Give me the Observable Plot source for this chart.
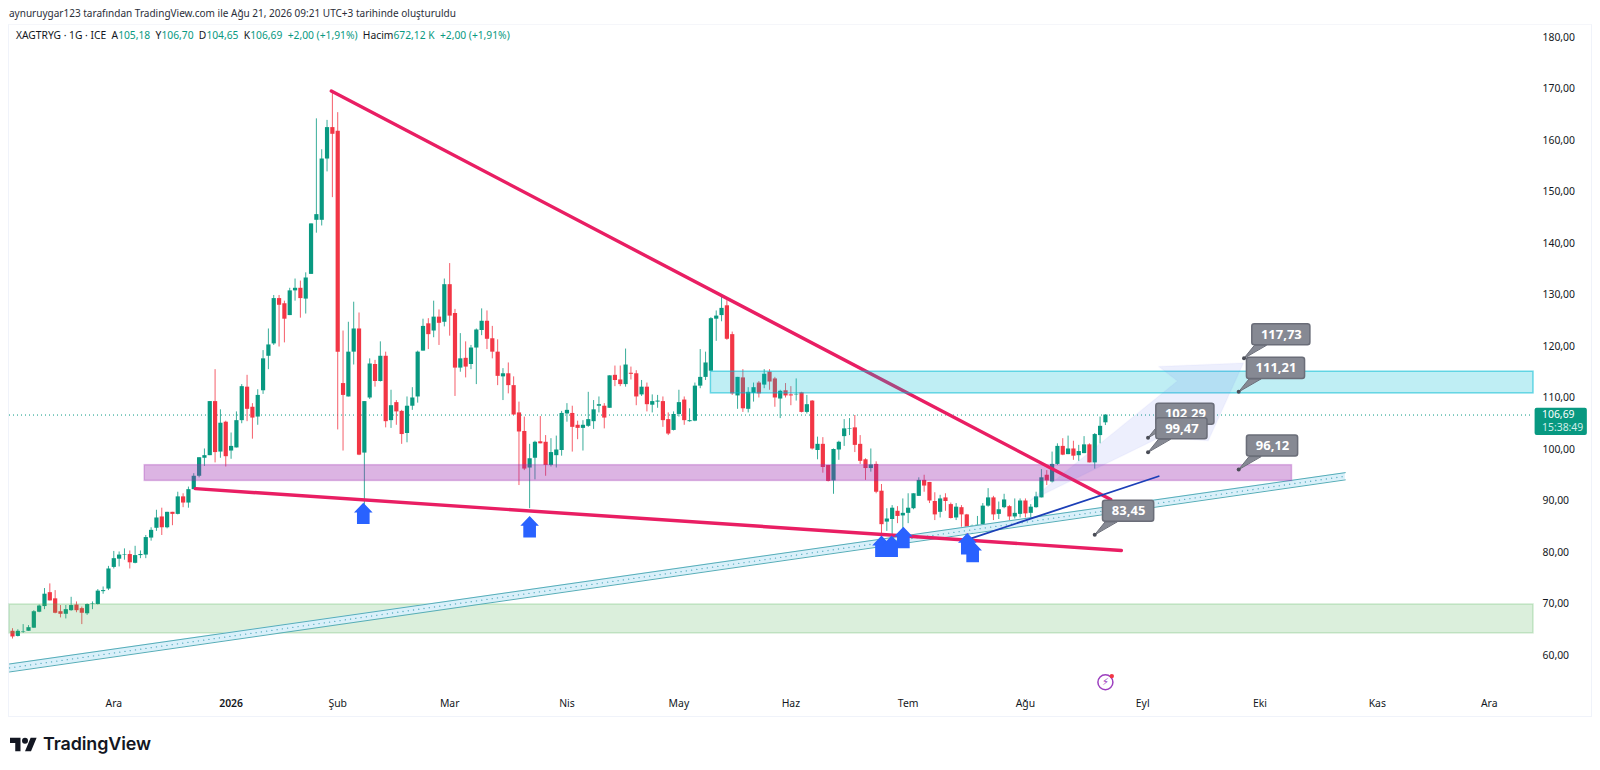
<!DOCTYPE html>
<html lang="tr"><head><meta charset="utf-8">
<script src="https://cdn.jsdelivr.net/npm/d3@7"></script>
<script src="https://cdn.jsdelivr.net/npm/@observablehq/plot@0.6"></script>
<style>
html,body{margin:0;padding:0;background:#fff;width:1600px;height:770px;overflow:hidden;font-family:"Noto Sans",sans-serif;color:#131722}
#head{position:absolute;left:9px;top:5px;font-size:10.03px;line-height:16px;color:#2a2e39;white-space:nowrap}
#legend{position:absolute;left:16px;top:27px;font-size:10.28px;line-height:16px;color:#131722;white-space:nowrap}
#legend b{font-weight:400;color:#089981}
#pane{position:absolute;left:8px;top:24px;width:1584px;height:693px;border:1px solid #f0f3fa;border-top-color:#f5f6fa;box-sizing:border-box}
#chart{position:absolute;left:0;top:24px}
#logo{position:absolute;left:10px;top:733px;display:flex;align-items:center;gap:6px;font-family:Inter,sans-serif;font-weight:600;font-size:17.9px;letter-spacing:-.1px;color:#131722}
</style></head><body>
<div id="pane"></div>
<div id="chart"></div>
<div id="head">aynuruygar123 tarafından TradingView.com ile Ağu 21, 2026 09:21 UTC+3 tarihinde oluşturuldu</div>
<div id="legend">XAGTRYG · 1G · ICE &nbsp;A<b>105,18</b> &nbsp;Y<b>106,70</b> &nbsp;D<b>104,65</b> &nbsp;K<b>106,69</b> &nbsp;<b>+2,00 (+1,91%)</b> &nbsp;Hacim<b>672,12 K</b> &nbsp;<b>+2,00 (+1,91%)</b></div>
<div id="logo"><svg width="27" height="16" viewBox="0 2 36 21"><path fill="#131722" d="M14 22H7V11H0V4h14v18zM28 22h-8l7.5-18h8L28 22z"/><circle fill="#131722" cx="20" cy="8" r="4"/></svg><span>TradingView</span></div>
<script>
const open=[64.7,63.7,64.5,64.7,65.3,68.4,69.5,72.2,71.0,68.5,
68.0,68.7,69.8,69.1,68.1,69.9,69.9,72.4,72.9,77.1,
78.7,79.5,79.6,77.9,79.4,79.5,82.8,84.7,86.9,84.8,
87.8,87.4,90.8,89.6,92.2,94.8,98.3,98.8,109.3,99.5,
105.3,99.7,100.3,105.6,112.1,108.2,106.3,111.4,118.1,120.5,
129.3,128.3,126.0,130.8,131.3,129.2,134.0,144.5,144.5,156.4,
162.5,161.8,112.8,110.2,118.9,123.4,99.3,110.0,116.5,113.2,
118.1,105.6,109.1,107.4,103.1,108.4,110.2,119.1,124.4,123.0,
125.7,124.7,132.0,126.4,115.8,117.7,116.5,119.7,123.1,124.9,
121.5,118.9,114.1,114.7,112.4,107.1,103.5,96.4,98.3,101.5,
101.4,96.9,98.8,99.8,106.9,107.0,104.7,104.1,104.5,105.4,
108.4,108.4,108.0,114.4,113.5,112.6,114.8,114.7,110.6,112.1,
108.6,109.2,109.3,105.8,103.7,106.8,109.6,105.4,105.5,112.3,
114.0,115.2,125.3,126.0,127.9,122.3,110.4,113.9,107.8,110.9,
112.9,112.5,115.0,113.7,109.8,111.4,110.6,110.6,111.0,107.2,
109.4,99.8,101.0,96.9,93.9,99.9,102.5,103.9,104.2,101.0,
98.0,96.3,97.1,91.9,85.9,86.4,88.0,87.1,87.6,88.5,
90.9,94.0,93.6,89.9,87.8,90.6,89.3,86.7,88.7,87.3,
84.1,84.1,85.3,89.0,90.6,87.4,88.7,88.9,86.9,87.4,
90.0,87.6,88.7,90.6,95.0,93.7,97.1,100.6,99.0,100.1,
98.8,99.2,100.9,97.4,102.7,105.18];
const high=[65.2,65.0,66.0,65.8,68.7,69.8,73.0,73.9,72.6,69.7,
69.7,71.3,70.4,69.4,70.0,70.4,72.8,73.3,77.3,80.2,
80.1,80.7,80.3,81.2,80.3,83.3,84.8,88.2,88.6,87.8,
87.8,91.7,91.4,92.7,95.3,98.4,100.1,109.3,115.5,107.7,
105.5,103.2,107.3,112.6,114.4,108.9,111.6,119.2,123.4,129.9,
129.9,128.8,131.3,133.1,132.7,134.3,143.8,164.2,158.2,163.9,
169.4,165.4,123.0,124.7,128.6,126.5,109.3,117.6,117.3,120.9,
118.9,111.5,109.5,107.6,110.2,112.0,119.1,125.3,125.4,128.8,
127.1,133.1,136.1,127.2,122.5,120.9,120.2,123.4,127.3,126.9,
123.9,121.3,115.7,116.8,114.1,109.2,106.3,101.0,101.6,106.4,
102.7,102.1,102.6,107.4,108.9,108.4,105.5,105.6,111.1,109.5,
110.2,108.9,114.3,116.2,116.2,119.5,116.0,115.3,113.4,112.9,
110.6,110.5,110.2,107.1,107.3,111.5,110.2,107.9,112.9,119.4,
118.9,125.6,126.9,130.1,128.9,122.8,114.0,115.5,112.0,112.9,
113.2,115.5,115.5,114.0,111.5,112.8,112.2,113.7,111.1,110.5,
109.5,102.4,102.3,96.9,100.1,101.6,105.8,106.0,106.6,102.7,
98.2,100.1,97.6,93.2,88.5,89.1,88.9,90.4,91.4,91.4,
94.5,95.0,93.6,91.6,91.1,91.4,89.6,89.5,89.1,87.4,
85.3,87.0,89.5,92.4,90.9,89.8,91.3,89.1,90.4,90.4,
90.4,89.3,91.7,96.1,95.9,99.5,101.1,102.1,102.6,101.6,
100.8,102.5,101.1,103.1,106.3,106.70];
const low=[63.2,63.6,64.3,64.7,65.3,68.3,68.9,70.6,68.1,67.3,
67.1,68.6,68.3,66.0,67.8,68.9,69.8,71.9,72.6,76.8,
77.2,78.5,76.8,77.8,78.8,78.8,82.2,84.1,83.3,84.6,
85.2,87.3,88.7,88.6,92.2,94.5,96.7,98.8,97.4,98.3,
96.6,98.1,100.3,105.0,105.4,102.0,104.7,110.7,115.5,120.2,
119.9,120.7,126.0,128.8,125.5,126.3,134.0,142.0,143.4,153.9,
148.9,103.8,99.7,110.2,116.4,98.8,88.8,109.7,112.1,113.1,
104.2,104.1,104.7,101.0,101.3,107.6,109.0,119.1,119.4,121.7,
120.2,123.8,122.0,110.3,115.0,113.9,115.5,112.6,122.1,119.4,
117.6,112.4,109.5,110.8,106.6,93.0,95.9,88.5,94.1,101.1,
94.8,96.6,96.4,98.7,105.3,99.5,101.9,99.7,104.3,103.9,
107.1,104.0,108.0,112.2,112.2,112.1,113.5,108.5,110.3,107.3,
107.1,108.0,104.3,102.7,103.6,106.3,104.7,105.3,105.4,111.8,
113.4,115.1,121.0,124.8,121.2,110.5,107.8,107.2,107.1,109.2,
110.0,111.8,111.5,108.2,106.0,110.0,108.5,109.4,107.1,106.9,
99.9,98.0,95.4,93.7,91.3,97.9,100.6,102.7,99.4,97.1,
94.0,95.6,91.4,83.3,84.1,83.3,85.6,84.4,85.6,88.3,
90.9,91.7,89.5,86.2,86.7,88.0,86.5,86.2,84.9,82.7,
83.5,84.0,85.1,88.8,86.2,86.4,88.5,86.1,86.5,86.7,
86.7,86.7,88.6,90.6,93.0,93.5,96.9,98.8,99.0,97.9,
97.7,99.2,97.4,96.2,101.1,104.65];
const close=[63.6,64.7,64.6,65.4,68.5,69.6,71.9,70.6,68.2,68.0,
68.9,69.7,68.7,68.2,69.9,70.0,72.5,72.6,76.8,78.8,
79.5,79.6,78.0,79.4,79.6,82.9,84.3,86.7,84.8,87.8,
87.4,90.8,89.6,92.2,94.8,98.4,98.8,109.3,99.4,105.1,
98.6,100.6,105.6,112.2,107.8,106.1,110.5,117.6,120.3,129.3,
128.0,125.3,130.8,131.3,129.3,133.3,143.8,145.6,156.4,162.5,
161.2,118.9,110.5,118.9,123.4,98.9,109.3,116.6,113.2,118.1,
105.4,108.5,107.3,102.9,108.4,110.0,118.9,123.9,122.3,125.7,
124.5,132.0,125.9,115.8,117.6,116.0,119.7,123.2,124.9,121.4,
118.9,114.2,114.7,112.4,106.7,103.4,96.2,98.2,101.4,101.1,
96.9,99.4,99.9,107.0,107.6,104.3,104.1,104.7,105.8,107.7,
108.7,106.1,114.3,113.4,112.6,116.4,114.6,110.2,112.1,108.7,
109.3,109.4,105.6,103.0,106.8,109.1,105.6,105.6,112.3,114.0,
116.8,125.4,125.9,127.4,121.4,110.8,114.0,107.9,111.1,112.0,
110.8,114.6,113.1,110.0,111.3,110.4,110.4,110.7,107.2,108.7,
100.1,101.0,96.5,93.8,100.0,101.4,104.0,104.0,100.8,97.7,
96.3,97.0,91.7,85.4,86.5,88.6,87.0,87.6,88.6,91.4,
94.0,92.9,90.0,87.3,90.4,89.9,86.6,88.8,87.3,83.5,
85.1,85.3,89.0,90.6,87.3,88.3,90.2,86.9,87.6,90.0,
87.5,88.8,90.8,94.5,93.9,97.1,100.6,98.9,100.1,98.7,
99.6,100.9,97.4,102.9,104.5,106.69];

// axes (x = bar number, one bar per trading day)
const monthBars=[19,61,82,104,125,146,168,190,212,234,256,277];
const monthNames=["Ara","Şub","Mar","Nis","May","Haz","Tem","Ağu","Eyl","Eki","Kas","Ara"];
const yearBar=41, yearName="2026";
const priceTicks=[60,70,80,90,100,110,120,130,140,150,160,170,180];

// drawings
const lastPrice=106.69, lastPriceText="106,69", countdown="15:38:49";
const trendUpperBars=[59.8,206], trendUpperVals=[169.6,90.3];
const trendLowerBars=[34.3,208], trendLowerVals=[92.4,80.4];
const blueBars=[179.7,215], blueVals=[82.7,94.8];
const chanBars=[-0.56,250], chanHi=[58.35,95.5], chanLo=[56.8,94.1];
const arrowBars=[65.8,97,163,164.9,167.1,179.1,180.1];
const arrowVals=[87.6,85,81.2,81.2,82.9,81.7,80.2];
const forecastBars=[190.6,218.5,215,230.9,224.3,215.3];
const forecastVals=[89.9,113.3,116.1,116.8,101.7,102.4];
const calloutBars=[231,230,213,213,230,203];
const calloutVals=[117.73,111.21,102.29,99.47,96.12,83.45];
const calloutText=["117,73","111,21","102,29","99,47","96,12","83,45"];

const xDomain=[-0.563,285.3], yDomain=[52.62,182.52];
const paneEnd=xDomain[1];

const bars=open.map((o,i)=>({i,o,h:high[i],l:low[i],c:close[i]}));
const up=bars.filter(d=>d.c>=d.o), down=bars.filter(d=>d.c<d.o);
const UP="#089981", DOWN="#f23645";
const pts=(xs,ys)=>xs.map((x,k)=>({x,y:ys[k]}));

const GR="#868993", GRS="#6a6d78";
// each callout is drawn whole before the next, so a later box covers an earlier text
const calloutMarks=calloutBars.flatMap((x,k)=>{
  const w=calloutText[k].length===6?10.9:9.6;
  const y=calloutVals[k];
  const x1=x+1.55,x2=x1+w,y1=y+2.5,y2=y1+4.1;
  return [
    Plot.line([{x,y},{x:x1+0.4,y:y1},{x:x1+2.6,y:y1}],{x:"x",y:"y",fill:GR,stroke:GRS,strokeWidth:1,curve:"linear-closed"}),
    Plot.rect([0],{x1,x2,y1,y2,fill:GR,stroke:GRS,strokeWidth:1.5,rx:2.5}),
    Plot.text([{x:(x1+x2)/2,y:(y1+y2)/2+0.05,t:calloutText[k]}],{x:"x",y:"y",text:"t",fill:"#fff",fontSize:13,fontWeight:700,
      fontFamily:"'Noto Sans',sans-serif",letterSpacing:"0.3px"}),
    Plot.dot([{x,y}],{x:"x",y:"y",r:2,fill:"#4a4d57",stroke:null})
  ];
});

const arrowSym={draw(ctx,size){const s=Math.sqrt(size)/2;
  ctx.moveTo(0,-s*1.15);ctx.lineTo(s,-s*.1);ctx.lineTo(s*.68,-s*.1);ctx.lineTo(s*.68,s*1.15);
  ctx.lineTo(-s*.68,s*1.15);ctx.lineTo(-s*.68,-s*.1);ctx.lineTo(-s,-s*.1);ctx.closePath();}};

const labelFont={fontFamily:"'Noto Sans',sans-serif",fontSize:10.4};

const plot=Plot.plot({
  width:1600,height:693,
  marginLeft:9,marginRight:67,marginTop:0,marginBottom:24,
  x:{type:"linear",domain:xDomain},
  y:{type:"linear",domain:yDomain},
  style:{background:"transparent",overflow:"visible",fontFamily:"'Noto Sans',sans-serif"},
  marks:[
    Plot.axisY({anchor:"right",ticks:priceTicks,tickSize:0,tickPadding:9,label:null,
      tickFormat:d=>d+",00",fill:"#131722",...labelFont}),
    Plot.axisX({ticks:monthBars,tickSize:0,tickPadding:6,label:null,
      tickFormat:d=>monthNames[monthBars.indexOf(d)],fill:"#131722",...labelFont}),
    Plot.axisX({ticks:[yearBar],tickSize:0,tickPadding:6,label:null,
      tickFormat:()=>yearName,fill:"#131722",fontWeight:600,...labelFont}),

    Plot.ruleY([lastPrice],{x1:xDomain[0],x2:paneEnd,stroke:UP,strokeWidth:1,strokeDasharray:"1,3"}),

    // candles
    Plot.ruleX(up,{x:"i",y1:"l",y2:"h",stroke:UP,strokeWidth:1,strokeOpacity:.8}),
    Plot.ruleX(down,{x:"i",y1:"l",y2:"h",stroke:DOWN,strokeWidth:1,strokeOpacity:.8}),
    Plot.ruleX(up,{x:"i",y1:"o",y2:"c",stroke:UP,strokeWidth:4.2}),
    Plot.ruleX(down,{x:"i",y1:"o",y2:"c",stroke:DOWN,strokeWidth:4.2}),

    // zones and channel
    Plot.rect([0],{x1:xDomain[0],x2:paneEnd,y1:64.3,y2:69.9,fill:"rgb(76,175,80)",fillOpacity:.2,stroke:"rgb(76,175,80)",strokeOpacity:.25,strokeWidth:1.5}),
    Plot.areaY(chanBars.map((x,k)=>({x,a:chanLo[k],b:chanHi[k]})),{x:"x",y1:"a",y2:"b",fill:"#d9f0fa"}),
    Plot.line(pts(chanBars,chanHi),{x:"x",y:"y",stroke:"#55adb8",strokeWidth:1}),
    Plot.line(pts(chanBars,chanLo),{x:"x",y:"y",stroke:"#55adb8",strokeWidth:1}),
    Plot.line(chanBars.map((x,k)=>({x,y:(chanLo[k]+chanHi[k])/2})),{x:"x",y:"y",stroke:"#5aaec0",strokeWidth:1.3,strokeDasharray:"0.1,5.2",strokeLinecap:"round"}),
    Plot.rect([0],{x1:24.8,x2:240,y1:93.9,y2:96.95,fill:"rgb(156,39,176)",fillOpacity:.35,stroke:"rgb(156,39,176)",strokeOpacity:.3,strokeWidth:1.5}),

    // trend lines
    Plot.line(pts(trendUpperBars,trendUpperVals),{x:"x",y:"y",stroke:"#e91e63",strokeWidth:3.4}),
    Plot.line(pts(trendLowerBars,trendLowerVals),{x:"x",y:"y",stroke:"#e91e63",strokeWidth:3.4}),
    Plot.rect([0],{x1:131,x2:paneEnd,y1:110.9,y2:115.1,fill:"rgb(0,188,212)",fillOpacity:.25,stroke:"rgb(0,188,212)",strokeOpacity:.55,strokeWidth:1.5}),
    Plot.line(pts(forecastBars,forecastVals),{x:"x",y:"y",fill:"#5b6cf0",fillOpacity:.11,stroke:"#5b6cf0",strokeOpacity:.04,curve:"linear-closed"}),
    Plot.line(pts(blueBars,blueVals),{x:"x",y:"y",stroke:"#1c3fb7",strokeWidth:1.8}),

    // support arrows
    Plot.dot(pts(arrowBars,arrowVals),{x:"x",y:"y",symbol:arrowSym,r:10.5,fill:"#2962ff",stroke:null}),

    // callouts
    ...calloutMarks,

    // indicator icon
    Plot.dot([{x:205,y:54.8}],{x:"x",y:"y",r:7.5,fill:"#fff",stroke:"#9c3fbf",strokeWidth:1.5}),
    Plot.text([{x:205,y:54.8}],{x:"x",y:"y",text:()=>"⚡",fill:"#9c3fbf",fontSize:10,fontFamily:"'DejaVu Sans'"}),
    Plot.dot([{x:206.2,y:56}],{x:"x",y:"y",r:2.2,fill:"#f23645",stroke:null}),

    // last price tag
    Plot.rect([0],{x1:285.6,x2:295.4,y1:102.7,y2:108,fill:UP,rx:2}),
    Plot.text([{x:286.9,y:106.7,t:lastPriceText}],{x:"x",y:"y",text:"t",fill:"#fff",textAnchor:"start",...labelFont}),
    Plot.text([{x:286.9,y:104.2,t:countdown}],{x:"x",y:"y",text:"t",fill:"#cfeee8",textAnchor:"start",...labelFont})
  ]
});
document.getElementById("chart").appendChild(plot);
</script>
</body></html>
